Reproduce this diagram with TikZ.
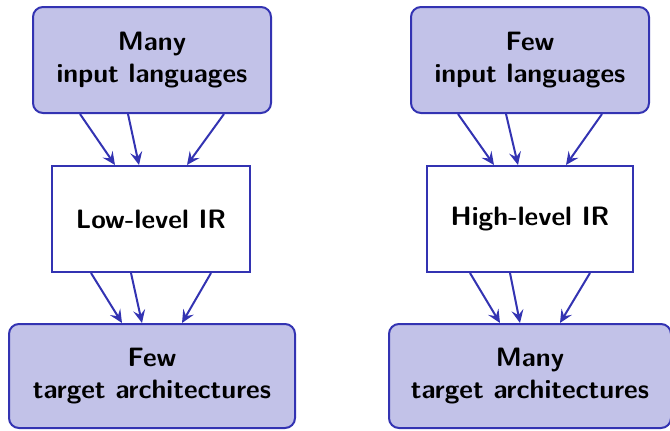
\documentclass[tikz,border=0pt]{standalone}
\usepackage{tikz}
\usetikzlibrary{arrows.meta}
\definecolor{myblue}{RGB}{51,51,178}

\begin{document}
\begin{tikzpicture}[x=1pt, y=1pt, >={Stealth[length=6.5pt, width=6pt, inset=2.5pt]},
		font=\sffamily\bfseries\fontsize{13.3}{16.3}\selectfont,
		langbox/.style={draw=myblue, fill=myblue!30, line width=1pt, rounded corners=5pt, align=center, minimum height=53pt, inner sep=0pt},
		irbox/.style={draw=myblue, fill=white, line width=1pt, align=center, minimum height=53pt, inner sep=0pt},
		flow/.style={->, draw=myblue, line width=1pt}]
			% Bildbereich
			\useasboundingbox (0,0) rectangle (335,215);
			% linke Seite
			\node[langbox, minimum width=119pt] (inL)  at (76,185)   {Many\\input languages};
			\node[irbox,   minimum width=99pt]  (irL)  at (75.5,105.5) {Low-level IR};
			\node[langbox, minimum width=143pt, minimum height=52pt] (outL) at (76,27) {Few\\target architectures};
			% rechte Seite
			\node[langbox, minimum width=119pt] (inR)  at (265,185)   {Few\\input languages};
			\node[irbox,   minimum width=103pt] (irR)  at (265,105.5) {High-level IR};
			\node[langbox, minimum width=141pt, minimum height=52pt] (outR) at (265,27) {Many\\target architectures};
			% Pfeile
			\foreach \a/\b/\c in {inL/irL/outL, inR/irR/outR} {
				\foreach \s in {-3,-1,3} {
					\draw[flow] ([xshift=\s*12pt]\a.south) -- ([xshift=\s*6pt]\b.north);
					\draw[flow] ([xshift=\s*10pt]\b.south) -- ([xshift=\s*5pt]\c.north);
				}
			}
		\end{tikzpicture}
\end{document}
